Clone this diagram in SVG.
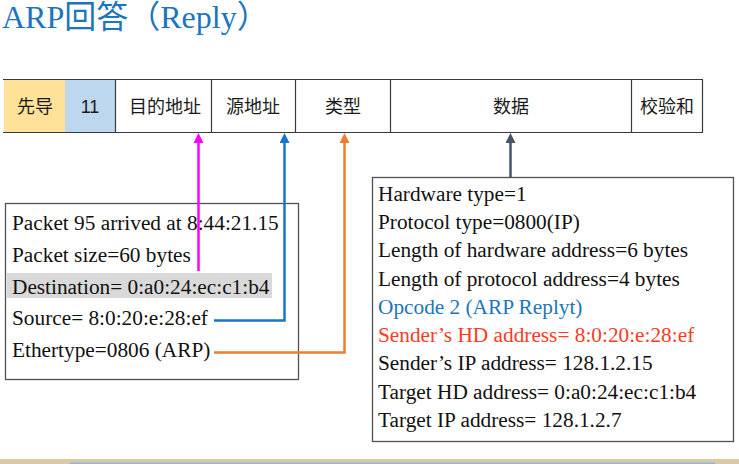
<svg xmlns="http://www.w3.org/2000/svg" width="739" height="464" viewBox="0 0 739 464">
<defs>
<style>
.title{font-family:"Liberation Serif","Noto Sans CJK SC",serif;font-size:32px;fill:#1B75C0}
.cell{font-family:"Liberation Sans","Noto Sans CJK SC",sans-serif;font-size:18px;fill:#1a1a1a;text-anchor:middle}
.tl{stroke:#3a3a3a;stroke-width:1.2;fill:none}
.box{fill:#fff;stroke:#505050;stroke-width:1.3}
.txt{font-family:"Liberation Serif","Noto Serif CJK SC",serif;font-size:21.3px;fill:#111}
.conn{fill:none;stroke-width:2.5}
</style>
<marker id="am" markerWidth="10" markerHeight="10" refX="5" refY="3" markerUnits="userSpaceOnUse" viewBox="0 0 10 10"><path d="M0,10 L5,0 L10,10 Z" fill="#FF00FF"/></marker>
<marker id="ab" markerWidth="10" markerHeight="10" refX="5" refY="3" markerUnits="userSpaceOnUse" viewBox="0 0 10 10"><path d="M0,10 L5,0 L10,10 Z" fill="#1874CD"/></marker>
<marker id="ao" markerWidth="10" markerHeight="10" refX="5" refY="3" markerUnits="userSpaceOnUse" viewBox="0 0 10 10"><path d="M0,10 L5,0 L10,10 Z" fill="#ED7D31"/></marker>
<marker id="ad" markerWidth="10" markerHeight="10" refX="5" refY="3" markerUnits="userSpaceOnUse" viewBox="0 0 10 10"><path d="M0,10 L5,0 L10,10 Z" fill="#44546A"/></marker>
</defs>
<rect width="739" height="464" fill="#fff"/>
<text class="title" x="2" y="27.5">ARP回答（Reply）</text>

<g id="frame">
<rect x="4" y="80" width="61" height="52" fill="#FFE199"/>
<rect x="65" y="80" width="50" height="52" fill="#BDD7EE"/>
<line class="tl" x1="3" y1="79.5" x2="703" y2="79.5"/>
<line class="tl" x1="3" y1="132.5" x2="703" y2="132.5"/>
<line class="tl" x1="115.5" y1="79.5" x2="115.5" y2="132.5"/>
<line class="tl" x1="211.5" y1="79.5" x2="211.5" y2="132.5"/>
<line class="tl" x1="295.5" y1="79.5" x2="295.5" y2="132.5"/>
<line class="tl" x1="390.5" y1="79.5" x2="390.5" y2="132.5"/>
<line class="tl" x1="631.5" y1="79.5" x2="631.5" y2="132.5"/>
<line class="tl" x1="702.5" y1="79.5" x2="702.5" y2="132.5"/>
</g>
<g id="f-preamble"><text class="cell" x="35" y="113">先导</text></g>
<g id="f-11"><text class="cell" x="90" y="113">11</text></g>
<g id="f-dst"><text class="cell" x="165" y="113">目的地址</text></g>
<g id="f-src"><text class="cell" x="253" y="113">源地址</text></g>
<g id="f-type"><text class="cell" x="343" y="113">类型</text></g>
<g id="f-data"><text class="cell" x="511" y="113">数据</text></g>
<g id="f-crc"><text class="cell" x="667" y="113">校验和</text></g>

<g id="left-box">
<rect class="box" x="5.5" y="203.5" width="293" height="176"/>
<rect x="7" y="273" width="265" height="25" fill="#D9D9D9"/>
<text class="txt" x="12" y="229.5">Packet 95 arrived at 8:44:21.15</text>
<text class="txt" x="12" y="261.5">Packet size=60 bytes</text>
<text class="txt" x="12" y="293.5">Destination= 0:a0:24:ec:c1:b4</text>
<text class="txt" x="12" y="325">Source= 8:0:20:e:28:ef</text>
<text class="txt" x="12" y="357">Ethertype=0806 (ARP)</text>
</g>

<g id="right-box">
<rect class="box" x="372.5" y="177.5" width="361" height="264"/>
<text class="txt" x="378" y="200.7">Hardware type=1</text>
<text class="txt" x="378" y="229">Protocol type=0800(IP)</text>
<text class="txt" x="378" y="257.3">Length of hardware address=6 bytes</text>
<text class="txt" x="378" y="285.6">Length of protocol address=4 bytes</text>
<text class="txt" x="378" y="313.9" style="fill:#1B75C0">Opcode 2 (ARP Replyt)</text>
<text class="txt" x="378" y="342" style="fill:#FF3B1F">Sender’s HD address= 8:0:20:e:28:ef</text>
<text class="txt" x="378" y="370.3">Sender’s IP address= 128.1.2.15</text>
<text class="txt" x="378" y="398.6">Target HD address= 0:a0:24:ec:c1:b4</text>
<text class="txt" x="378" y="426.8">Target IP address= 128.1.2.7</text>
</g>

<g id="connectors">
<path class="conn" stroke="#FF00FF" d="M198.5,271 V136" marker-end="url(#am)"/>
<path class="conn" stroke="#1874CD" d="M214,320.5 H284.5 V136" marker-end="url(#ab)"/>
<path class="conn" stroke="#ED7D31" d="M214,352.5 H344.5 V136" marker-end="url(#ao)"/>
<path class="conn" stroke="#44546A" d="M510.5,177 V136" marker-end="url(#ad)"/>
</g>

<rect x="0" y="459" width="739" height="5" fill="#DCC9A5"/>
<rect x="70" y="462.5" width="645" height="1.5" fill="#95B3D7"/>
</svg>
